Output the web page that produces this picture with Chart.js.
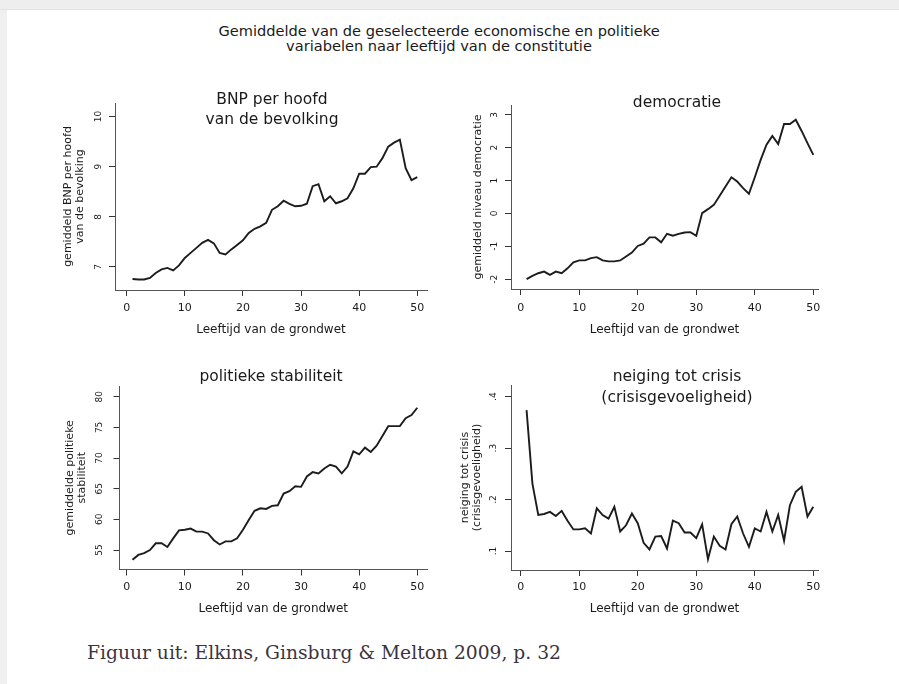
<!DOCTYPE html>
<html>
<head>
<meta charset="utf-8">
<title>Gemiddelde naar leeftijd van de constitutie</title>
<script src="https://cdn.jsdelivr.net/npm/chart.js@4.4.0/dist/chart.umd.min.js"></script>
<style>
  html, body { margin: 0; padding: 0; background: #fff; }
  #page { position: relative; width: 899px; height: 684px; overflow: hidden; background: #fff; }
  #topband { position: absolute; left: 0; top: 0; width: 899px; height: 9px; background: #eeeeee; border-bottom: 1px solid #e3e3e3; }
  #leftband { position: absolute; left: 0; top: 10px; width: 7px; height: 674px; background: #f0f0f0; }
  #maintitle { position: absolute; left: 139px; top: 23px; width: 600px; text-align: center;
               font: 14.6px/15px "DejaVu Sans", sans-serif; color: #1a1a1a; }
  #source { position: absolute; left: 87px; top: 641px; white-space: nowrap;
            font: 18.7px/24px "DejaVu Serif", serif; color: #3a3440; }
  canvas { position: absolute; }
</style>
</head>
<body>
<div id="page">
  <div id="topband"></div>
  <div id="leftband"></div>
  <div id="maintitle">Gemiddelde van de geselecteerde economische en politieke<br>variabelen naar leeftijd van de constitutie</div>
  <canvas id="bnp"></canvas>
  <canvas id="democratie"></canvas>
  <canvas id="stabiliteit"></canvas>
  <canvas id="crisis"></canvas>
  <div id="source">Figuur uit: Elkins, Ginsburg &amp; Melton 2009, p. 32</div>
</div>

<script>
// leeftijd van de grondwet (jaren)
var ages = [1, 2, 3, 4, 5, 6, 7, 8, 9, 10, 11, 12, 13, 14, 15, 16, 17, 18, 19, 20,
            21, 22, 23, 24, 25, 26, 27, 28, 29, 30, 31, 32, 33, 34, 35, 36, 37, 38, 39, 40,
            41, 42, 43, 44, 45, 46, 47, 48, 49, 50];
var ageTicks = [0, 10, 20, 30, 40, 50];

var bnpValues = [6.76, 6.75, 6.75, 6.78, 6.88, 6.95, 6.98, 6.93, 7.03, 7.18,
                 7.28, 7.38, 7.48, 7.54, 7.47, 7.28, 7.25, 7.35, 7.44, 7.53,
                 7.68, 7.76, 7.81, 7.88, 8.14, 8.21, 8.32, 8.26, 8.21, 8.22,
                 8.26, 8.61, 8.65, 8.31, 8.41, 8.27, 8.31, 8.37, 8.57, 8.86,
                 8.86, 8.99, 9.00, 9.17, 9.40, 9.48, 9.54, 8.97, 8.73, 8.79];
var bnpTicks = [7, 8, 9, 10];
var bnpTickLabels = ["7", "8", "9", "10"];

var democratieValues = [-2.00, -1.90, -1.82, -1.77, -1.87, -1.77, -1.82, -1.67, -1.49, -1.43,
                        -1.43, -1.36, -1.33, -1.43, -1.46, -1.46, -1.43, -1.31, -1.19, -0.99,
                        -0.92, -0.73, -0.73, -0.88, -0.62, -0.68, -0.62, -0.58, -0.57, -0.68,
                        0.01, 0.13, 0.26, 0.54, 0.82, 1.10, 0.97, 0.77, 0.60, 1.10,
                        1.63, 2.09, 2.36, 2.11, 2.72, 2.72, 2.85, 2.51, 2.14, 1.78];
var democratieTicks = [-2, -1, 0, 1, 2, 3];
var democratieTickLabels = ["-2", "-1", "0", "1", "2", "3"];

var stabiliteitValues = [53.4, 54.2, 54.5, 55.0, 56.1, 56.1, 55.5, 56.9, 58.2, 58.3,
                         58.5, 58.0, 58.0, 57.7, 56.6, 55.9, 56.4, 56.4, 56.9, 58.3,
                         59.9, 61.4, 61.8, 61.7, 62.2, 62.3, 64.2, 64.6, 65.4, 65.3,
                         67.0, 67.7, 67.5, 68.3, 68.9, 68.6, 67.5, 68.6, 71.1, 70.6,
                         71.7, 71.0, 72.0, 73.6, 75.2, 75.2, 75.2, 76.5, 77.0, 78.2];
var stabiliteitTicks = [55, 60, 65, 70, 75, 80];
var stabiliteitTickLabels = ["55", "60", "65", "70", "75", "80"];

var crisisValues = [0.374, 0.231, 0.170, 0.172, 0.176, 0.168, 0.178, 0.159, 0.142, 0.142,
                    0.144, 0.134, 0.183, 0.170, 0.163, 0.186, 0.138, 0.150, 0.173, 0.154,
                    0.116, 0.103, 0.128, 0.129, 0.105, 0.159, 0.154, 0.136, 0.136, 0.125,
                    0.152, 0.084, 0.128, 0.110, 0.103, 0.152, 0.167, 0.134, 0.108, 0.144,
                    0.138, 0.176, 0.138, 0.170, 0.120, 0.189, 0.215, 0.225, 0.167, 0.186];
var crisisTicks = [0.1, 0.2, 0.3, 0.4];
var crisisTickLabels = [".1", ".2", ".3", ".4"];

var fontFamily = "'DejaVu Sans', sans-serif";
var textColor = "#1a1a1a";

// box = canvas on the page, area = plot region on the page (px)
var panels = [
  { id: "bnp", title: ["BNP per hoofd", "van de bevolking"], titleX: 272, titleY: [100, 120],
    yTitle: ["gemiddeld BNP per hoofd", "van de bevolking"], yTitlePad: 2,
    values: bnpValues, ticks: bnpTicks, labels: bnpTickLabels,
    xMin: -2.01, xMax: 51.67, yMin: 6.54, yMax: 10.27, yTickPad: 4.3, xTickPad: 5.7,
    box: { left: 60, top: 88, width: 380, height: 249 },
    area: { left: 115, top: 103, right: 427, bottom: 290 } },
  { id: "democratie", title: ["democratie"], titleX: 677, titleY: [103],
    yTitle: "gemiddeld niveau democratie", yTitlePad: 22,
    values: democratieValues, ticks: democratieTicks, labels: democratieTickLabels,
    xMin: -1.66, xMax: 50.8, yMin: -2.30, yMax: 3.30, yTickPad: 5.5, xTickPad: 6.7,
    box: { left: 450, top: 88, width: 390, height: 249 },
    area: { left: 511, top: 105, right: 818, bottom: 289 } },
  { id: "stabiliteit", title: ["politieke stabiliteit"], titleX: 271, titleY: [377],
    yTitle: ["gemiddelde politieke", "stabiliteit"], yTitlePad: 4,
    values: stabiliteitValues, ticks: stabiliteitTicks, labels: stabiliteitTickLabels,
    xMin: -1.24, xMax: 51.67, yMin: 51.82, yMax: 81.75, yTickPad: 8.3, xTickPad: 4.6,
    box: { left: 60, top: 362, width: 380, height: 254 },
    area: { left: 119.5, top: 386, right: 427, bottom: 569.5 } },
  { id: "crisis", title: ["neiging tot crisis", "(crisisgevoeligheid)"], titleX: 677, titleY: [377, 398],
    yTitle: ["neiging tot crisis", "(crisisgevoeligheid)"], yTitlePad: 9,
    values: crisisValues, ticks: crisisTicks, labels: crisisTickLabels,
    xMin: -1.66, xMax: 50.8, yMin: 0.0631, yMax: 0.4227, yTickPad: 7.4, xTickPad: 4.1,
    box: { left: 450, top: 362, width: 390, height: 254 },
    area: { left: 511, top: 385, right: 818, bottom: 570 } }
];

function drawPanel(p) {
  var canvas = document.getElementById(p.id);
  canvas.width = p.box.width;
  canvas.height = p.box.height;
  canvas.style.left = p.box.left + "px";
  canvas.style.top = p.box.top + "px";

  var titlePlugin = {
    id: "panelTitle",
    afterDraw: function (chart) {
      var ctx = chart.ctx;
      ctx.save();
      ctx.font = "15.5px " + fontFamily;
      ctx.fillStyle = textColor;
      ctx.textAlign = "center";
      ctx.textBaseline = "middle";
      p.title.forEach(function (line, i) {
        ctx.fillText(line, p.titleX - p.box.left, p.titleY[i] - p.box.top);
      });
      ctx.restore();
    }
  };

  new Chart(canvas, {
    type: "line",
    data: {
      datasets: [{
        data: ages.map(function (a, i) { return { x: a, y: p.values[i] }; }),
        borderColor: "#1c1c1c",
        borderWidth: 1.9,
        pointRadius: 0,
        tension: 0,
        fill: false
      }]
    },
    options: {
      responsive: false,
      animation: false,
      devicePixelRatio: 1,
      layout: { padding: { left: 0, bottom: 0,
                           top: p.area.top - p.box.top,
                           right: p.box.left + p.box.width - p.area.right } },
      plugins: { legend: { display: false }, tooltip: { enabled: false } },
      scales: {
        x: {
          type: "linear", min: p.xMin, max: p.xMax,
          afterBuildTicks: function (s) { s.ticks = ageTicks.map(function (v) { return { value: v }; }); },
          afterFit: function (s) { s.height = p.box.top + p.box.height - p.area.bottom; },
          grid: { drawOnChartArea: false, tickLength: 6, color: "#333" },
          border: { color: "#555", width: 1 },
          ticks: { padding: p.xTickPad, color: textColor, maxRotation: 0, autoSkip: false,
                   font: { family: fontFamily, size: 11 } },
          title: { display: true, text: "Leeftijd van de grondwet", color: textColor, padding: 0,
                   font: { family: fontFamily, size: 12 } }
        },
        y: {
          type: "linear", min: p.yMin, max: p.yMax,
          afterBuildTicks: function (s) { s.ticks = p.ticks.map(function (v) { return { value: v }; }); },
          afterFit: function (s) { s.width = p.area.left - p.box.left; },
          grid: { drawOnChartArea: false, tickLength: 6, color: "#333" },
          border: { color: "#555", width: 1 },
          ticks: { padding: p.yTickPad, color: textColor, minRotation: 90, maxRotation: 90,
                   crossAlign: "center", autoSkip: false,
                   font: { family: fontFamily, size: 9 },
                   callback: function (v) { return p.labels[p.ticks.indexOf(v)]; } },
          title: { display: true, text: p.yTitle, color: textColor,
                   padding: { top: p.yTitlePad, bottom: 0 },
                   font: { family: fontFamily, size: 11, lineHeight: 1.1 } }
        }
      }
    },
    plugins: [titlePlugin]
  });
}

panels.forEach(drawPanel);
</script>
</body>
</html>
